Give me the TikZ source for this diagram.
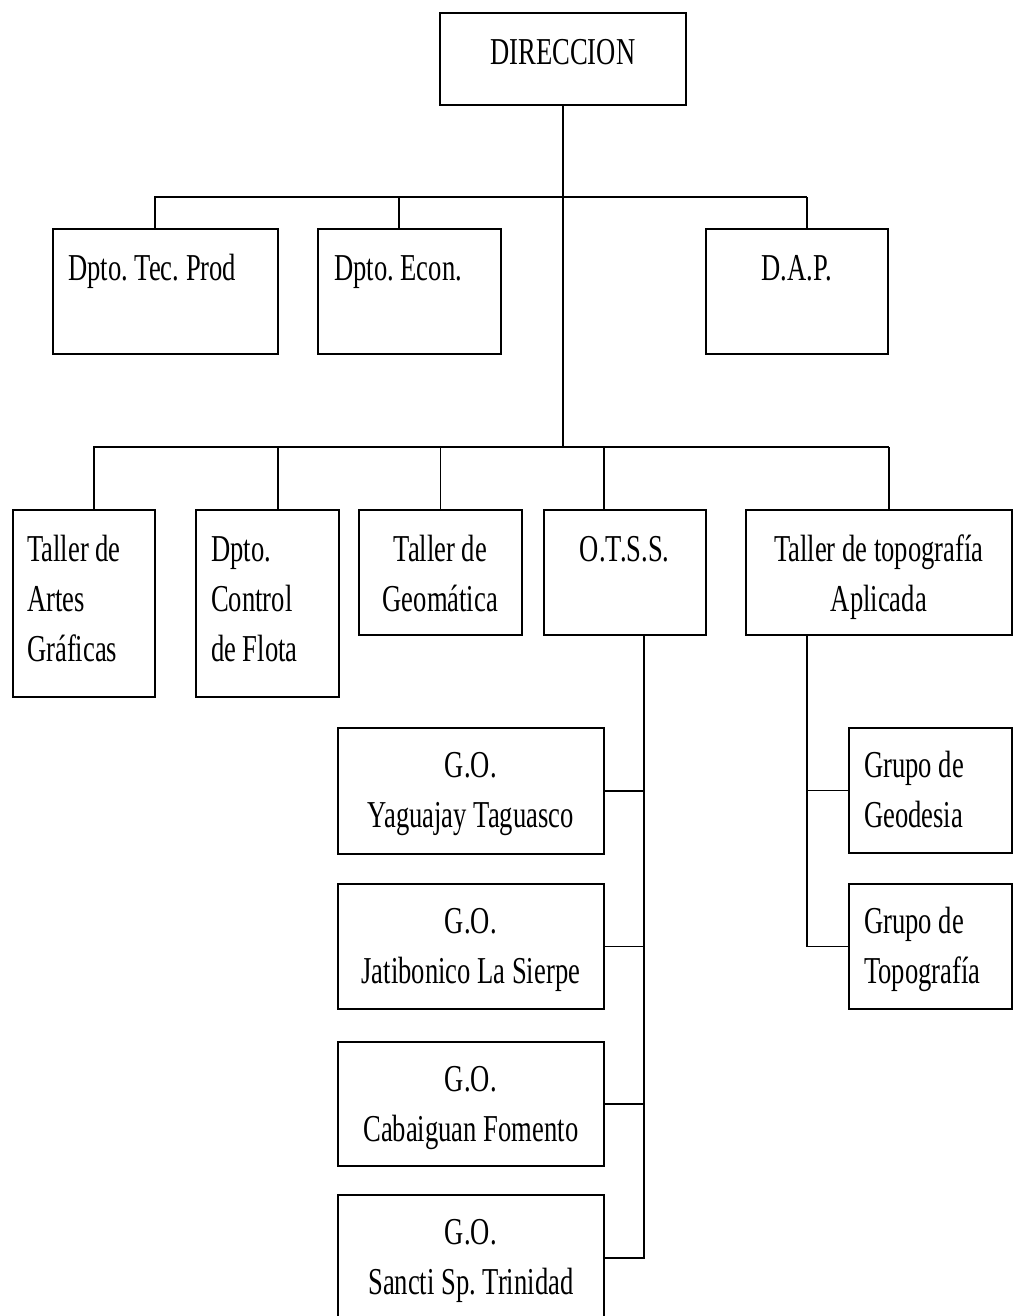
\documentclass[tikz,border=0pt]{standalone}
\usepackage{fontspec}
\newfontfamily\orgfont{Liberation Serif}[FakeStretch=0.70]
\usetikzlibrary{positioning}

\begin{document}
\begin{tikzpicture}[x=1pt,y=-1pt,
  unit/.style={draw, line width=1.6pt, inner sep=0pt, anchor=north west},
  lbl/.style={inner sep=0pt, font=\orgfont\fontsize{38}{50}\selectfont\frenchspacing},
  link/.style={line width=1.6pt}]
\useasboundingbox (0,0) rectangle (1015,1316);

% top
\node[unit, minimum width=246pt, minimum height=92pt] (dir) at (439,12) {};
\node[lbl, below=17pt of dir.north] (dir-t) {\strut DIRECCION};

% first row
\node[unit, minimum width=225pt, minimum height=125pt] (tec) at (52,228) {};
\node[unit, minimum width=183pt, minimum height=125pt] (eco) at (317,228) {};
\node[unit, minimum width=182pt, minimum height=125pt] (dap) at (705,228) {};
\node[lbl, below right=17pt and 16pt of tec.north west] (tec-t) {\strut Dpto. Tec. Prod};
\node[lbl, below right=17pt and 17pt of eco.north west] (eco-t) {\strut Dpto. Econ.};
\node[lbl, below=17pt of dap.north] (dap-t) {\strut D.A.P.};

% second row
\node[unit, minimum width=142pt, minimum height=187pt] (art) at (12,509) {};
\node[unit, minimum width=143pt, minimum height=187pt] (flo) at (195,509) {};
\node[unit, minimum width=163pt, minimum height=125pt] (geo) at (358,509) {};
\node[unit, minimum width=162pt, minimum height=125pt] (ots) at (543,509) {};
\node[unit, minimum width=266pt, minimum height=125pt] (top) at (745,509) {};
\node[lbl, align=left, below right=17pt and 15pt of art.north west] (art-t) {\strut Taller de\\Artes\\Gráficas};
\node[lbl, align=left, below right=17pt and 16pt of flo.north west] (flo-t) {\strut Dpto.\\Control\\de Flota};
\node[lbl, align=center, below=17pt of geo.north] (geo-t) {\strut Taller de\\Geomática};
\node[lbl, below=17pt of ots.north] (ots-t) {\strut O.T.S.S.};
\node[lbl, align=center, below=17pt of top.north] (top-t) {\strut Taller de topografía\\Aplicada};

% groups under O.T.S.S.
\node[unit, minimum width=266pt, minimum height=126pt] (yag) at (337,727) {};
\node[unit, minimum width=266pt, minimum height=125pt] (jat) at (337,883) {};
\node[unit, minimum width=266pt, minimum height=124pt] (cab) at (337,1041) {};
\node[unit, minimum width=266pt, minimum height=126pt] (san) at (337,1194) {};
\node[lbl, align=center, below=15pt of yag.north] (yag-t) {\strut G.O.\\Yaguajay Taguasco};
\node[lbl, align=center, below=15pt of jat.north] (jat-t) {\strut G.O.\\Jatibonico La Sierpe};
\node[lbl, align=center, below=15pt of cab.north] (cab-t) {\strut G.O.\\Cabaiguan Fomento};
\node[lbl, align=center, below=15pt of san.north] (san-t) {\strut G.O.\\Sancti Sp. Trinidad};

% groups under topografia
\node[unit, minimum width=163pt, minimum height=125pt] (gdes) at (848,727) {};
\node[unit, minimum width=163pt, minimum height=125pt] (gtop) at (848,883) {};
\node[lbl, align=left, below right=15pt and 16pt of gdes.north west] (gdes-t) {\strut Grupo de\\Geodesia};
\node[lbl, align=left, below right=15pt and 16pt of gtop.north west] (gtop-t) {\strut Grupo de\\Topografía};

% buses
\coordinate (bus1) at (154,197);
\coordinate (bus2) at (93,447);
\draw[link] (dir.south) -- (dir.south |- bus2);
\draw[link] (bus1) -- ([xshift=10pt]dap.north |- bus1);
\draw[link] (bus2) -- ([xshift=10pt]top.north |- bus2);

\draw[link] ([xshift=-10.5pt]tec.north) -- ([xshift=-10.5pt]tec.north |- bus1);
\draw[link] ([xshift=-10.5pt]eco.north) -- ([xshift=-10.5pt]eco.north |- bus1);
\draw[link] ([xshift=10pt]dap.north) -- ([xshift=10pt]dap.north |- bus1);

\draw[link] ([xshift=10pt]art.north) -- ([xshift=10pt]art.north |- bus2);
\draw[link] ([xshift=10.5pt]flo.north) -- ([xshift=10.5pt]flo.north |- bus2);
\draw[link] (geo.north) -- (geo.north |- bus2);
\draw[link] ([xshift=-21pt]ots.north) -- ([xshift=-21pt]ots.north |- bus2);
\draw[link] ([xshift=10pt]top.north) -- ([xshift=10pt]top.north |- bus2);

% spines
\coordinate (ots-s) at ([xshift=19pt]ots.south);
\draw[link] (ots-s) |- (san.east);
\draw[link] (yag.east) -- (yag.east -| ots-s);
\draw[link] (jat.east) -- (jat.east -| ots-s);
\draw[link] (cab.east) -- (cab.east -| ots-s);

\coordinate (top-s) at ([xshift=-72pt]top.south);
\draw[link] (top-s) |- (gtop.west);
\draw[link] (gdes.west) -- (gdes.west -| top-s);
\end{tikzpicture}
\end{document}
